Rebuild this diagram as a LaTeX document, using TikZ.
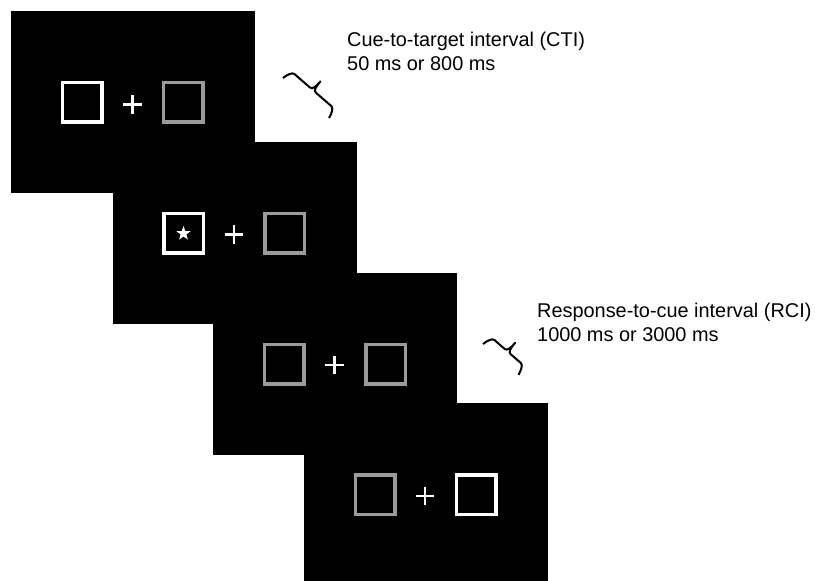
\documentclass[tikz,border=0pt]{standalone}
\usepackage{fontspec}
\setmainfont{Liberation Sans}
\usetikzlibrary{shapes.geometric,shapes.misc}
\definecolor{dimgrey}{RGB}{155,155,155}

\tikzset{
  screen/.style={rectangle, fill=black, inner sep=0pt,
    minimum width=244pt, minimum height=182pt},
  cue/.style={rectangle, draw=white, line width=3.5pt,
    minimum size=39.5pt, inner sep=0pt},
  nocue/.style={cue, draw=dimgrey},
  fixation/.style={cross out, draw=white, line width=2.6pt,
    minimum size=10.6pt, inner sep=0pt, rotate=45},
  target/.style={star, star points=5, star point ratio=2.5,
    fill=white, minimum size=15pt, inner sep=0pt},
  intervaltext/.style={anchor=north west, align=left, inner sep=0pt,
    font=\fontsize{19.9}{24}\selectfont},
  lagbrace/.pic={
    \draw[line width=2pt, line join=round, x=1pt, y=1pt]
      (0,0) .. controls (1,5) and (3,10.5) .. (6,10.5)
      -- ({#1/2-4},10.5) .. controls ({#1/2-1},10.5) and ({#1/2},14) .. ({#1/2},22)
      .. controls ({#1/2},14) and ({#1/2+1},10.5) .. ({#1/2+4},10.5)
      -- ({#1-6},10.5) .. controls ({#1-3},10.5) and ({#1-1},5) .. (#1,0);
  }
}

\begin{document}
\begin{tikzpicture}[x=1pt,y=-1pt]
    \fill[white] (0,0) rectangle (815,581);
    \useasboundingbox (0,0) rectangle (815,581);

    % screens, first to last
    \node[screen] (scr1) at (133,102) {};
    \node[screen] (scr2) at (234.5,233) {};
    \node[screen] (scr3) at (334.5,364) {};
    \node[screen] (scr4) at (426,494) {};

    % placeholders and fixation
    \node[cue]      (scr1l) at (82,102) {};
    \node[fixation] (scr1x) at (132.5,104.5) {};
    \node[nocue]    (scr1r) at (183,102) {};

    \node[cue]      (scr2l) at (183.5,233) {};
    \node[target]   (star)  at (183.5,233.5) {};
    \node[fixation] (scr2x) at (234,234.5) {};
    \node[nocue]    (scr2r) at (284.5,233) {};

    \node[nocue]    (scr3l) at (284,364) {};
    \node[fixation] (scr3x) at (334.5,365) {};
    \node[nocue]    (scr3r) at (385.5,364) {};

    \node[nocue]    (scr4l) at (375,494.5) {};
    \node[fixation] (scr4x) at (425,496) {};
    \node[cue]      (scr4r) at (476,494.5) {};

    % intervals
    \pic[rotate=-41] at (283,78) {lagbrace=61};
    \node[intervaltext] (cti) at (347,32)
      {Cue-to-target interval (CTI)\\50 ms or 800 ms};

    \pic[rotate=-41] at (483,344) {lagbrace=47};
    \node[intervaltext] (rci) at (537,303)
      {Response-to-cue interval (RCI)\\1000 ms or 3000 ms};
\end{tikzpicture}
\end{document}
